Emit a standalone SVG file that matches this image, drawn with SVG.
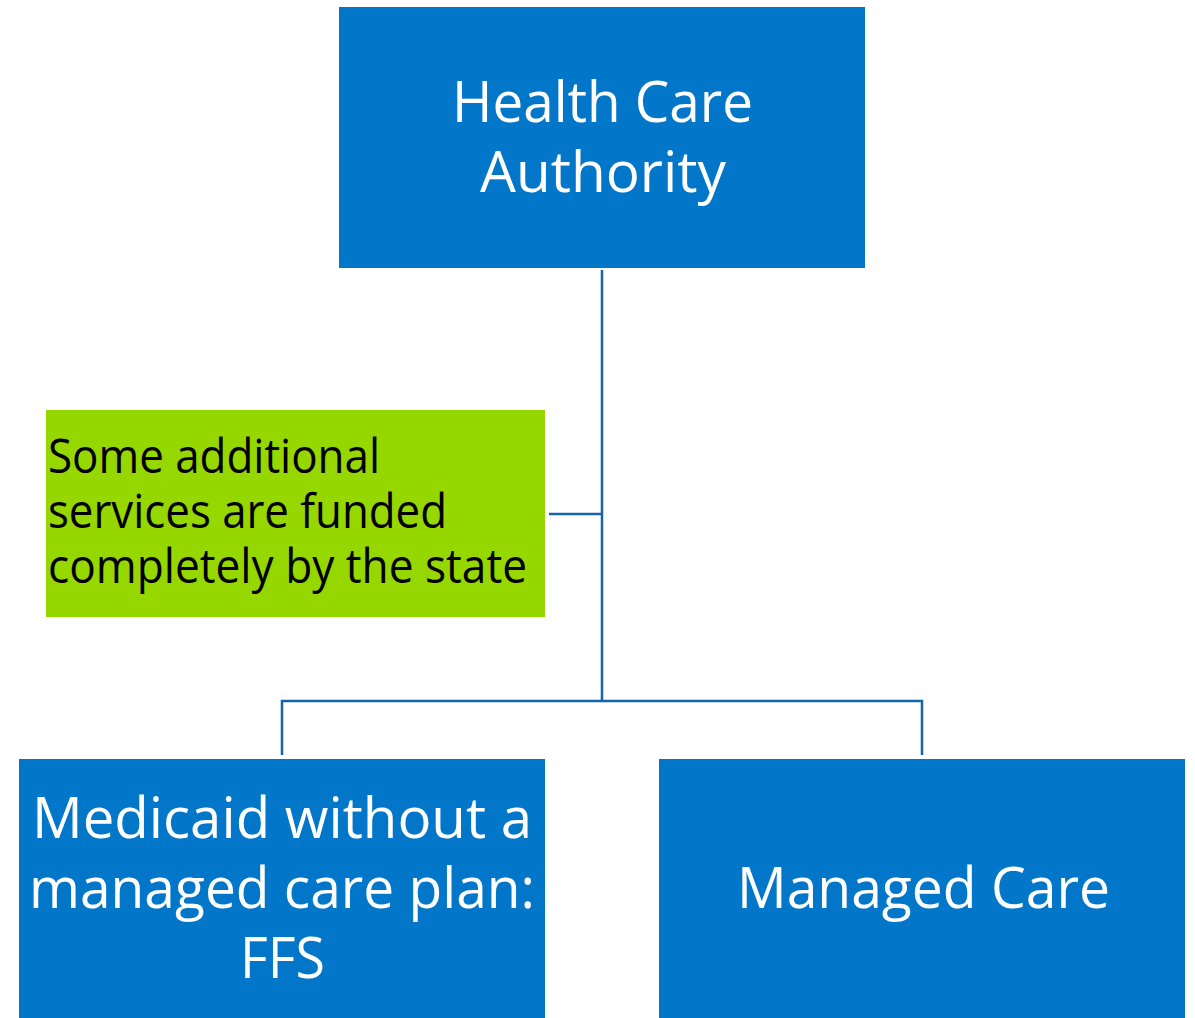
<svg xmlns="http://www.w3.org/2000/svg" width="1195" height="1018" viewBox="0 0 1195 1018">
<style>
.box{fill:#0277C9;}
.note{fill:#97D700;}
.wt{font-family:"Open Sans","Noto Sans",sans-serif;font-size:57px;fill:#ffffff;}
.bt{font-family:"Open Sans","Noto Sans",sans-serif;font-size:48px;fill:#000000;}
.conn{fill:none;stroke:#1565A8;stroke-width:2.5;}
</style>
<rect width="1195" height="1018" fill="#ffffff"/>
<g id="connectors">
<path class="conn" d="M602 270 V701"/>
<path class="conn" d="M282 755 V701 H922 V755"/>
<path class="conn" d="M549 514 H602"/>
</g>
<g id="hca">
<rect class="box" x="339" y="7" width="526" height="261"/>
<text class="wt" x="452" y="122" textLength="301" lengthAdjust="spacingAndGlyphs">Health Care</text>
<text class="wt" x="480" y="192" textLength="246" lengthAdjust="spacingAndGlyphs">Authority</text>
</g>
<g id="note">
<rect class="note" x="46" y="410" width="499" height="207"/>
<text class="bt" x="48" y="473" textLength="332" lengthAdjust="spacingAndGlyphs">Some additional</text>
<text class="bt" x="48" y="528" textLength="399" lengthAdjust="spacingAndGlyphs">services are funded</text>
<text class="bt" x="48" y="583" textLength="479" lengthAdjust="spacingAndGlyphs">completely by the state</text>
</g>
<g id="ffs">
<rect class="box" x="19" y="759" width="526" height="259"/>
<text class="wt" x="32" y="838" textLength="500" lengthAdjust="spacingAndGlyphs">Medicaid without a</text>
<text class="wt" x="29" y="908" textLength="506" lengthAdjust="spacingAndGlyphs">managed care plan:</text>
<text class="wt" x="240" y="978" textLength="85" lengthAdjust="spacingAndGlyphs">FFS</text>
</g>
<g id="managed">
<rect class="box" x="659" y="759" width="526" height="259"/>
<text class="wt" x="737" y="908" textLength="373" lengthAdjust="spacingAndGlyphs">Managed Care</text>
</g>
</svg>
